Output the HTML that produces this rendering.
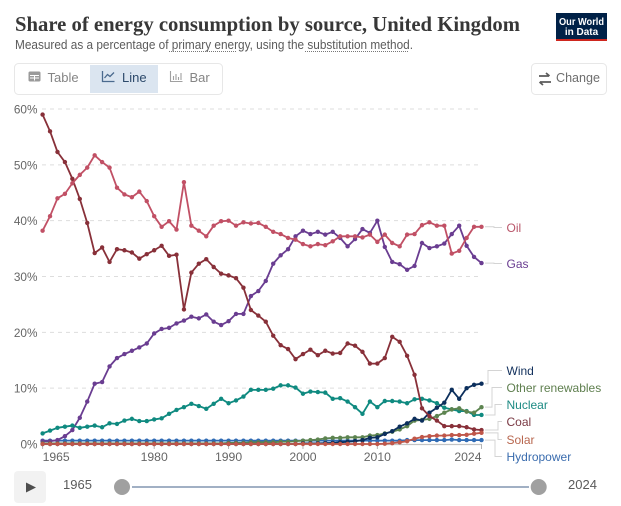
<!DOCTYPE html>
<html lang="en">
<head>
<meta charset="utf-8">
<title>Share of energy consumption by source, United Kingdom</title>
<style>
html,body{margin:0;padding:0;background:#fff;width:621px;height:506px;overflow:hidden}
svg{display:block;font-family:"Liberation Sans",sans-serif}
</style>
</head>
<body>
<svg id="chart" width="621" height="506" viewBox="0 0 621 506" xmlns="http://www.w3.org/2000/svg">
  <text x="15" y="31" font-family="'Liberation Serif',serif" font-weight="700" font-size="21" fill="#373737" textLength="505" lengthAdjust="spacingAndGlyphs">Share of energy consumption by source, United Kingdom</text>
  <text x="15" y="49" font-size="12.5" fill="#5b5b5b" textLength="398" lengthAdjust="spacingAndGlyphs">Measured as a percentage of primary energy, using the substitution method.</text>
  <line x1="169" x2="236" y1="51.5" y2="51.5" stroke="#777" stroke-width="1" stroke-dasharray="1 1"/>
  <line x1="305" x2="409" y1="51.5" y2="51.5" stroke="#777" stroke-width="1" stroke-dasharray="1 1"/>

  <g>
    <rect x="556" y="13" width="51" height="28" fill="#002147"/>
    <rect x="556" y="39" width="51" height="2" fill="#ce261e"/>
    <text x="581.5" y="25" text-anchor="middle" font-size="10" font-weight="700" fill="#fff" textLength="45" lengthAdjust="spacingAndGlyphs">Our World</text>
    <text x="581.5" y="35" text-anchor="middle" font-size="10" font-weight="700" fill="#fff">in Data</text>
  </g>

  <g>
    <rect x="14.5" y="63.5" width="208" height="31" rx="4" fill="#fff" stroke="#e7e7e7"/>
    <g>
      <rect x="28.5" y="71.5" width="12" height="10" rx="1.5" fill="#9a9a9a"/>
      <path d="M30 75.5h9M34.5 75.5v5M30 78h9" stroke="#fff" stroke-width="1" fill="none"/>
      <text x="47.5" y="82" font-size="13" fill="#858585">Table</text>
    </g>
    <g>
      <rect x="90" y="65" width="68" height="28" fill="#dbe5f0"/>
      <path d="M102.5 71v10.5h12" stroke="#4a6a8e" stroke-width="1.3" fill="none"/>
      <path d="M104.5 78l3-3.5 2.5 2 4-4" stroke="#4a6a8e" stroke-width="1.3" fill="none"/>
      <text x="122" y="82" font-size="13" fill="#2d4a6b">Line</text>
    </g>
    <g>
      <path d="M170.5 71v10.5h12" stroke="#a0a0a0" stroke-width="1.1" fill="none"/>
      <path d="M173.5 80v-4M176 80v-6M178.5 80v-3M181 80v-7" stroke="#a0a0a0" stroke-width="1.1" fill="none"/>
      <text x="189.5" y="82" font-size="13" fill="#858585">Bar</text>
    </g>
  </g>

  <g>
    <rect x="531.5" y="63.5" width="75" height="31" rx="4" fill="#fff" stroke="#e7e7e7"/>
    <path d="M539 76h10M546 73l3.500 3M551 82h-11M543 85l-3.500-3" stroke="#5b5b5b" stroke-width="1.8" fill="none"/>
    <text x="556" y="82" font-size="13" fill="#6e6e6e" textLength="44" lengthAdjust="spacingAndGlyphs">Change</text>
  </g>

  <g id="grid"></g>
  <g id="xaxis"></g>
  <g id="connectors"></g>
  <g id="series"></g>
  <g id="labels"></g>

  <g>
    <g>
      <rect x="14" y="471" width="32" height="32" rx="4" fill="#f2f2f2"/>
      <path d="M26 482.500l10 5-10 5z" fill="#4e4e4e"/>
    </g>
    <text x="63" y="489" font-size="13" fill="#5b5b5b">1965</text>
    <line x1="132" x2="529" y1="487" y2="487" stroke="#a1b0c4" stroke-width="2"/>
    <circle cx="122" cy="487" r="8" fill="#a0a0a0"/>
    <circle cx="538.700" cy="487" r="8" fill="#a0a0a0"/>
    <text x="568" y="489" font-size="13" fill="#5b5b5b">2024</text>
  </g>
</svg>
<script>
const startYear = 1965;
const endYear = 2024;
const yTicks = [0, 10, 20, 30, 40, 50, 60];
const xTicks = [1965, 1980, 1990, 2000, 2010, 2024];

const coal = [59.0,56.0,52.3,50.5,47.5,43.9,39.6,34.2,35.2,32.6,
  34.9,34.7,34.3,33.2,34.0,34.7,35.5,33.7,33.9,24.1,
  30.7,32.3,33.1,31.7,30.5,30.2,29.7,28.0,24.0,23.0,
  21.9,19.4,17.7,17.0,15.2,16.1,16.9,15.9,16.7,16.2,
  16.3,18.0,17.6,16.5,14.4,14.4,15.4,19.2,18.3,15.8,
  12.4,6.4,5.0,4.2,3.2,3.2,3.2,3.0,2.6,2.5];
const oil = [38.2,40.8,44.0,44.8,46.7,48.2,49.5,51.7,50.5,49.5,
  45.9,44.7,44.2,45.2,43.5,40.8,38.9,39.9,38.4,46.9,
  39.1,38.2,37.2,39.1,39.9,40.0,39.1,39.7,39.5,39.6,
  38.9,38.0,37.6,36.9,36.6,35.8,35.4,35.8,35.6,36.3,
  37.2,37.2,37.2,37.0,37.5,36.2,37.5,36.0,35.4,37.5,
  37.6,39.2,39.7,39.1,39.1,34.1,34.6,36.9,38.9,38.9];
const gas = [0.5,0.5,0.7,1.4,2.5,4.7,7.6,10.8,11.1,13.9,
  15.4,16.1,16.7,17.3,18.0,19.8,20.6,20.8,21.6,22.1,
  22.8,22.5,23.2,21.9,21.3,22.0,23.3,23.3,26.5,27.4,
  29.2,32.3,33.8,34.9,37.2,38.2,37.6,38.0,37.5,38.0,
  36.9,35.4,36.7,38.5,37.8,40.0,35.3,32.6,32.2,31.2,
  31.9,36.0,35.1,35.4,35.9,37.6,39.1,35.5,33.5,32.4];
const nuclear = [1.9,2.4,2.9,3.1,3.3,2.9,3.1,3.3,3.0,3.7,
  3.6,4.2,4.5,4.1,4.1,4.4,4.6,5.4,6.1,6.6,
  7.2,6.8,6.3,7.2,8.1,7.3,7.8,8.5,9.7,9.7,
  9.7,9.9,10.5,10.5,10.1,9.0,9.4,9.3,9.2,8.1,
  8.2,7.6,6.6,5.4,7.6,6.6,7.7,7.7,7.6,7.3,
  8.0,8.1,7.8,7.3,6.5,6.2,5.9,5.9,5.2,5.2];
const wind = [0,0,0,0,0,0,0,0,0,0,
  0,0,0,0,0,0,0,0,0,0,
  0,0,0,0,0,0,0,0,0,0,
  0,0,0,0,0,0.1,0.1,0.1,0.15,0.2,
  0.3,0.4,0.5,0.7,1.1,1.2,1.8,2.3,3.1,3.7,
  4.5,4.2,5.6,6.5,7.4,9.7,8.1,10.0,10.6,10.8];
const otherRenewables = [0.1,0.1,0.1,0.1,0.1,0.1,0.1,0.1,0.1,0.1,
  0.1,0.1,0.1,0.1,0.1,0.1,0.1,0.1,0.1,0.1,
  0.1,0.1,0.1,0.1,0.1,0.2,0.2,0.2,0.3,0.3,
  0.3,0.3,0.4,0.4,0.5,0.6,0.7,0.8,1.0,1.1,
  1.1,1.2,1.2,1.2,1.5,1.6,1.9,2.2,2.6,3.2,
  4.2,4.3,4.5,5.0,5.6,6.2,6.4,5.8,5.6,6.6];
const solar = [0,0,0,0,0,0,0,0,0,0,
  0,0,0,0,0,0,0,0,0,0,
  0,0,0,0,0,0,0,0,0,0,
  0,0,0,0,0,0,0,0,0,0,
  0,0,0,0,0,0,0.05,0.15,0.3,0.5,
  0.95,1.25,1.4,1.5,1.5,1.6,1.6,1.65,1.85,2.0];
const hydropower = [0.6,0.6,0.6,0.6,0.6,0.6,0.6,0.6,0.6,0.6,
  0.6,0.6,0.6,0.6,0.6,0.6,0.6,0.6,0.6,0.6,
  0.6,0.6,0.6,0.6,0.6,0.6,0.6,0.6,0.6,0.6,
  0.6,0.6,0.6,0.6,0.6,0.6,0.6,0.6,0.6,0.6,
  0.6,0.6,0.6,0.6,0.6,0.6,0.6,0.6,0.6,0.7,
  0.7,0.7,0.7,0.7,0.7,0.8,0.7,0.7,0.7,0.7];

const NS = 'http://www.w3.org/2000/svg';
const x = year => 42.6 + (year - startYear) * (481.5 - 42.6) / (endYear - startYear);
const y = pct => 444 - pct * (444 - 109) / 60;

function mk(parent, tag, attrs, text) {
  const el = document.createElementNS(NS, tag);
  for (const k in attrs) el.setAttribute(k, attrs[k]);
  if (text !== undefined) el.textContent = text;
  parent.appendChild(el);
  return el;
}

const grid = document.getElementById('grid');
yTicks.forEach(t => {
  if (t > 0) {
    const gl = mk(grid, 'line', {x1: 42, x2: 481, y1: y(t), y2: y(t), stroke: '#dddddd', 'stroke-dasharray': '4 4'});
    
    
  }
  const tl = mk(grid, 'text', {x: 37.5, y: y(t) + 4.5, 'text-anchor': 'end', 'font-size': 11.8, fill: '#666'}, t + '%');
  
  
});

const xaxis = document.getElementById('xaxis');
const axisLine = mk(xaxis, 'line', {x1: x(startYear), x2: x(endYear), y1: 444.5, y2: 444.5, stroke: '#c4c4c4', 'stroke-width': 1.2});


xTicks.forEach(t => {
  const tk = mk(xaxis, 'line', {x1: x(t), x2: x(t), y1: 444, y2: 449, stroke: '#b5b5b5'});
  
  
  const anchor = t === startYear ? 'start' : t === endYear ? 'end' : 'middle';
  const tl = mk(xaxis, 'text', {x: x(t), y: 461, 'text-anchor': anchor, 'font-size': 12.2, fill: '#666'}, t);
  
  
});

const seriesList = [
  {key: 'hydropower', label: 'Hydropower', color: '#2f6bb5', text: '#3a6cae', values: hydropower, labelY: 457.5, midX: 495},
  {key: 'gas', label: 'Gas', color: '#6a3d91', text: '#6a3d91', values: gas, labelY: 264.5, midX: 494},
  {key: 'nuclear', label: 'Nuclear', color: '#0f8a80', text: '#1c8a83', values: nuclear, labelY: 405.5, midX: 495},
  {key: 'other-renewables', label: 'Other renewables', color: '#5d8450', text: '#5f7f4f', values: otherRenewables, labelY: 388.5, midX: 492},
  {key: 'wind', label: 'Wind', color: '#0c2f5c', text: '#12305c', values: wind, labelY: 371.5, midX: 488},
  {key: 'coal', label: 'Coal', color: '#883039', text: '#7a3a44', values: coal, labelY: 422.5, midX: 498},
  {key: 'solar', label: 'Solar', color: '#c0574a', text: '#b8674f', values: solar, labelY: 440.5, midX: 498},
  {key: 'oil', label: 'Oil', color: '#c15065', text: '#b9566a', values: oil, labelY: 228.5, midX: 494}
];

const seriesGroup = document.getElementById('series');
const connectors = document.getElementById('connectors');
const labels = document.getElementById('labels');
seriesList.forEach(s => {
  const g = mk(seriesGroup, 'g', {});
  
  
  const pts = s.values.map((v, i) => x(startYear + i).toFixed(2) + ',' + y(v).toFixed(2)).join(' ');
  const line = mk(g, 'polyline', {points: pts, fill: 'none', stroke: s.color, 'stroke-width': 1.8, 'stroke-linejoin': 'round'});
  
  
  s.values.forEach((v, i) => {
    const c = mk(g, 'circle', {cx: x(startYear + i), cy: y(v), r: 2.2, fill: s.color});
    
    
  });
  const endY = y(s.values[s.values.length - 1]);
  const ly = s.labelY - 1;
  const conn = mk(connectors, 'polyline', {
    points: '485,' + endY + ' ' + s.midX + ',' + endY + ' ' + s.midX + ',' + ly + ' 502,' + ly,
    fill: 'none', stroke: '#d4d4d4', 'stroke-width': 1
  });
  
  
  const lab = mk(labels, 'text', {x: 506.5, y: s.labelY + 3.5, 'font-size': 12, fill: s.text}, s.label);
  
  
});
</script>
</body>
</html>
